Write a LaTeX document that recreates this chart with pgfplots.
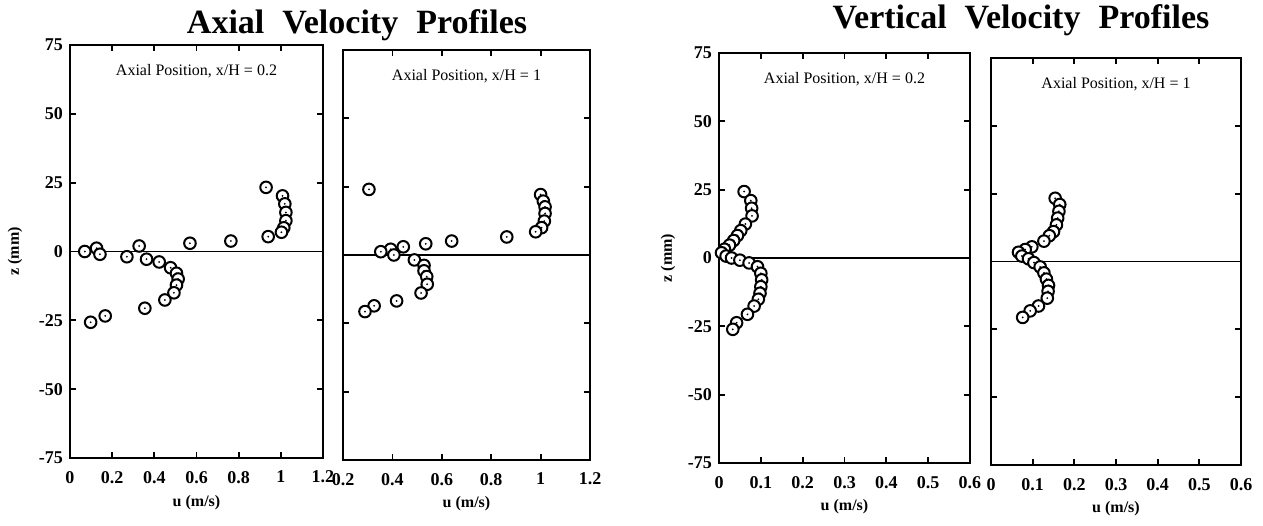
\documentclass[border=0pt]{standalone}
\usepackage{fontspec}
\setmainfont{Liberation Serif}
\usepackage{pgfplots}
\pgfplotsset{compat=1.18}
\pgfdeclareplotmark{odot}{%
  \pgfpathcircle{\pgfpointorigin}{\pgfplotmarksize}%
  \pgfsetfillcolor{white}\pgfusepathqfillstroke
  \pgfsetfillcolor{black}%
  \pgfpathcircle{\pgfpointorigin}{0.5pt}\pgfusepathqfill}
\pgfplotsset{
  panel/.style={
    scale only axis,
    axis line style={line width=1pt},
    tick align=inside,
    major tick length=3pt,
    tick style={line width=0.9pt,black},
    ymin=-75, ymax=75,
    ytick={-75,-50,-25,0,25,50,75},
    /pgf/number format/assume math mode=true,
    tick label style={font=\bfseries\fontsize{9}{10}\selectfont},
    x tick label style={yshift=-3pt},
    label style={font=\bfseries\fontsize{8}{9}\selectfont},
    xlabel={u (m/s)},
    xlabel style={at={(axis description cs:0.5,-0.107)},anchor=center},
    clip=false,
  },
  dat/.style={only marks, mark=odot, mark size=2.9pt, line width=1pt, black},
  zl/.style={black, line width=0.9pt, no marks},
}
\newcommand{\pos}[1]{\node[font=\fontsize{8}{9}\selectfont] at (rel axis cs:0.5,1) [yshift=-13pt] {Axial Position, x/H = #1};}
\begin{document}
\begin{tikzpicture}
\useasboundingbox (0,0) rectangle (631.5pt,-262.5pt);
\node[anchor=base,font=\bfseries\fontsize{17}{20}\selectfont] at (178.5pt,-16.5pt) {Axial\hspace{9pt}Velocity\hspace{9pt}Profiles};
\node[anchor=base,font=\bfseries\fontsize{17}{20}\selectfont] at (510.5pt,-14pt) {Vertical\hspace{9pt}Velocity\hspace{9pt}Profiles};

% Panel 1
\begin{axis}[panel, at={(35pt,-22.5pt)}, anchor=north west, width=126.5pt, height=206.5pt,
  xmin=0, xmax=1.2, xtick={0,0.2,0.4,0.6,0.8,1,1.2},
  ylabel={z (mm)}, ylabel style={at={(axis description cs:-0.217,0.5)},anchor=center}]
\addplot[zl] coordinates {(0,0) (1.2,0)};
\addplot[dat] coordinates {
(0.93,23.3) (1.008,20.2) (1.019,17.3) (1.024,14.2) (1.024,11.2) (1.014,8.6) (1.003,7.0)
(0.94,5.4) (0.763,3.8) (0.569,3.0) (0.328,2.0) (0.126,1.2) (0.07,0.0) (0.142,-1.0)
(0.27,-1.9) (0.363,-2.8) (0.423,-3.8) (0.477,-5.9) (0.505,-7.9) (0.513,-10.0)
(0.505,-12.2) (0.493,-15.0) (0.45,-17.6) (0.355,-20.6) (0.167,-23.4) (0.098,-25.7)};
\pos{0.2}
\end{axis}

% Panel 2
\begin{axis}[panel, at={(171.5pt,-25pt)}, anchor=north west, width=123.5pt, height=205pt,
  xmin=0.2, xmax=1.2, xtick={0.2,0.4,0.6,0.8,1,1.2}, yticklabels={}]
\addplot[zl] coordinates {(0.2,0) (1.2,0)};
\addplot[dat] coordinates {
(0.305,24.0) (1.0,22.1) (1.011,19.7) (1.018,17.6) (1.018,15.2) (1.015,12.4) (1.004,10.0)
(0.98,8.5) (0.863,6.6) (0.64,5.1) (0.535,4.1) (0.444,3.0) (0.393,2.1) (0.353,1.2)
(0.406,0.0) (0.489,-1.8) (0.528,-3.8) (0.528,-5.8) (0.539,-7.9) (0.541,-10.7)
(0.516,-13.9) (0.417,-16.8) (0.326,-18.6) (0.289,-20.7)};
\pos{1}
\end{axis}

% Panel 3
\begin{axis}[panel, at={(359.5pt,-26.5pt)}, anchor=north west, width=125.5pt, height=205pt,
  xmin=0, xmax=0.6, xtick={0,0.1,0.2,0.3,0.4,0.5,0.6},
  ylabel={z (mm)}, ylabel style={at={(axis description cs:-0.203,0.5)},anchor=center}]
\addplot[zl] coordinates {(0,0) (0.6,0)};
\addplot[dat] coordinates {
(0.060,24.3) (0.076,21.0) (0.078,18.2) (0.079,15.4) (0.063,12.4) (0.052,10.0) (0.044,8.2)
(0.035,6.4) (0.025,4.7) (0.013,3.2) (0.006,1.9) (0.017,0.7) (0.030,0.0) (0.050,-0.8)
(0.072,-1.8) (0.092,-3.2) (0.100,-5.6) (0.102,-8.0) (0.100,-10.5) (0.098,-12.9)
(0.094,-15.1) (0.084,-17.6) (0.068,-20.6) (0.042,-23.7) (0.033,-26.1)};
\pos{0.2}
\end{axis}

% Panel 4
\begin{axis}[panel, at={(495.5pt,-29pt)}, anchor=north west, width=125pt, height=203.5pt,
  xmin=0, xmax=0.6, xtick={0,0.1,0.2,0.3,0.4,0.5,0.6}, yticklabels={}]
\addplot[zl] coordinates {(0,0) (0.6,0)};
\addplot[dat] coordinates {
(0.154,23.3) (0.165,21.0) (0.163,18.5) (0.160,16.0) (0.157,13.5) (0.150,11.0) (0.140,9.5)
(0.127,7.5) (0.098,5.4) (0.082,4.4) (0.066,3.4) (0.074,2.0) (0.090,1.0) (0.103,-0.4)
(0.118,-2.0) (0.127,-4.2) (0.133,-6.5) (0.138,-8.8) (0.137,-11.0) (0.135,-13.5)
(0.114,-16.4) (0.094,-18.2) (0.076,-20.6)};
\pos{1}
\end{axis}
\end{tikzpicture}
\end{document}
